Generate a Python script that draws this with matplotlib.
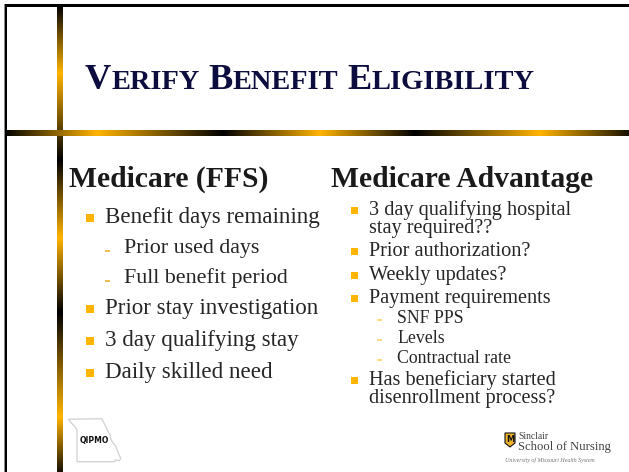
import numpy as np
import matplotlib
matplotlib.use("Agg")
import matplotlib.pyplot as plt
from matplotlib.colors import LinearSegmentedColormap
from matplotlib.patches import Rectangle, Polygon

# ---------------- content ----------------
title_text = "Verify Benefit Eligibility"
heading_left = "Medicare (FFS)"
heading_right = "Medicare Advantage"

left_levels = [0, 1, 1, 0, 0, 0]
left_texts = ["Benefit days remaining", "Prior used days", "Full benefit period",
              "Prior stay investigation", "3 day qualifying stay", "Daily skilled need"]

right_levels = [0, 0, 0, 0, 1, 1, 1, 0]
right_texts = [["3 day qualifying hospital", "stay required??"],
               ["Prior authorization?"],
               ["Weekly updates?"],
               ["Payment requirements"],
               ["SNF PPS"],
               ["Levels"],
               ["Contractual rate"],
               ["Has beneficiary started", "disenrollment process?"]]

logo_left_text = "QIPMO"
logo_right_lines = ["Sinclair", "School of Nursing", "University of Missouri Health System"]

# ---------------- layout (pixel coordinates) ----------------
W, H = 629, 472
left_baselines = [223, 253, 283, 314, 346, 378]
right_baselines = [215, 256, 280, 303, 323, 343, 363, 385]
right_line_gap = 18

GOLD = "#FFB400"
TEXT = "#262626"
NAVY = "#0c0c3e"
SERIF = ["Liberation Serif", "DejaVu Serif"]

fig = plt.figure(figsize=(W / 100, H / 100), dpi=100)
ax = fig.add_axes([0, 0, 1, 1])
ax.set_xlim(0, W)
ax.set_ylim(H, 0)
ax.axis("off")
renderer = fig.canvas.get_renderer()


def text_width(s, size, **kw):
    t = ax.text(0, 0, s, fontsize=size, family=SERIF, **kw)
    w = t.get_window_extent(renderer=renderer).width
    t.remove()
    return w


def fit_size(s, target, **kw):
    return 20.0 * target / text_width(s, 20.0, **kw)


# ---------------- decorative frame ----------------
cmap = LinearSegmentedColormap.from_list("blackgold", ["#000000", GOLD])

ax.add_patch(Rectangle((4, 4), W - 4, 2.6, color="#000000", lw=0, zorder=3))
ax.add_patch(Rectangle((4, 4), 1.2, H - 4, color="#8a8a8a", lw=0, zorder=3))
ax.add_patch(Rectangle((5.2, 4), 2.2, H - 4, color="#000000", lw=0, zorder=3))

# vertical gradient bar
ys = np.linspace(5, H, 600)
v_vals = np.interp(ys, [5, 73, 160, 238, 312, 417, 472], [0, 1, 0, 1, 0, 1, 0.1])
ax.imshow(v_vals[:, None], cmap=cmap, vmin=0, vmax=1, aspect="auto",
          extent=[57, 63, H, 5], interpolation="bilinear", zorder=2)
# horizontal gradient bar
xs = np.linspace(4, W, 800)
h_vals = np.interp(xs, [4, 97, 223, 320, 415, 540, 629], [0, 1, 0, 1, 0, 1, 0.1])
ax.imshow(h_vals[None, :], cmap=cmap, vmin=0, vmax=1, aspect="auto",
          extent=[4, W, 136, 130], interpolation="bilinear", zorder=2.5)
ax.set_xlim(0, W)
ax.set_ylim(H, 0)

# ---------------- title in small caps ----------------
words = title_text.split()
ratio = 0.78
base = 20.0
space_w = text_width("I I", base, weight="bold") - text_width("II", base, weight="bold")
total = 0
for i, wd in enumerate(words):
    total += text_width(wd[0].upper(), base, weight="bold")
    total += text_width(wd[1:].upper(), base * ratio, weight="bold")
    if i < len(words) - 1:
        total += space_w
big = base * (533 - 85) / total
small = big * ratio
scale = big / base
x = 85
for i, wd in enumerate(words):
    ax.text(x, 89, wd[0].upper(), fontsize=big, weight="bold", family=SERIF,
            color=NAVY, va="baseline", ha="left")
    x += text_width(wd[0].upper(), big, weight="bold")
    ax.text(x, 89, wd[1:].upper(), fontsize=small, weight="bold", family=SERIF,
            color=NAVY, va="baseline", ha="left")
    x += text_width(wd[1:].upper(), small, weight="bold")
    x += space_w * scale

# ---------------- headings ----------------
hsize = fit_size(heading_right, 262, weight="bold")
ax.text(69, 187, heading_left, fontsize=hsize, weight="bold", family=SERIF,
        color="#1a1a1a", va="baseline", ha="left")
ax.text(331, 187, heading_right, fontsize=hsize, weight="bold", family=SERIF,
        color="#1a1a1a", va="baseline", ha="left")

# ---------------- left column ----------------
l0 = fit_size("Benefit days remaining", 215)
l1 = fit_size("Full benefit period", 164)
for lev, s, yb in zip(left_levels, left_texts, left_baselines):
    if lev == 0:
        ax.add_patch(Rectangle((86, yb - 9.5), 8, 8, color=GOLD, lw=0))
        ax.text(105, yb, s, fontsize=l0, family=SERIF, color=TEXT, va="baseline")
    else:
        ax.plot([105, 110], [yb - 1.8, yb - 1.8], color="#F2B030", lw=1.2,
                solid_capstyle="butt")
        ax.text(124, yb, s, fontsize=l1, family=SERIF, color=TEXT, va="baseline")

# ---------------- right column ----------------
r0 = fit_size("3 day qualifying hospital", 202)
r1 = fit_size("Contractual rate", 114)
for lev, lines, yb in zip(right_levels, right_texts, right_baselines):
    if lev == 0:
        ax.add_patch(Rectangle((351, yb - 8), 7, 7, color=GOLD, lw=0))
        for k, s in enumerate(lines):
            ax.text(369, yb + k * right_line_gap, s, fontsize=r0, family=SERIF,
                    color=TEXT, va="baseline")
    else:
        ax.plot([377, 382], [yb - 3.4, yb - 3.4], color="#FFD36E", lw=1.2,
                solid_capstyle="butt")
        for k, s in enumerate(lines):
            ax.text(397, yb + k * right_line_gap, s, fontsize=r1, family=SERIF,
                    color=TEXT, va="baseline")

# ---------------- QIPMO logo ----------------
mo = [(68.3, 419.3), (101.7, 418.7), (105, 425), (107.3, 430), (110, 435),
      (110.7, 439.3), (113.3, 443.3), (116, 446.7), (117.3, 450.7), (119.3, 455),
      (120.7, 458.3), (119.3, 460.7), (115, 460), (115, 461.7), (77, 461.7),
      (77, 430), (75, 426.7), (71.7, 423.3)]
ax.add_patch(Polygon(mo, closed=True, fill=False, edgecolor="#d4d4d4", lw=1.0))
ax.text(94, 441, logo_left_text, fontsize=5.5, weight="bold", family="DejaVu Sans",
        color="#111111", ha="center", va="center")

# ---------------- Sinclair logo ----------------
shield = [(505, 433), (515, 433), (515, 443), (510, 447), (505, 443)]
ax.add_patch(Polygon(shield, closed=True, facecolor="#EDB42A", edgecolor="#111111", lw=0.8))
ax.text(510, 439.5, "M", fontsize=6, weight="bold", family="DejaVu Sans",
        color="#111111", ha="center", va="center")
ax.text(518, 439, logo_right_lines[0], fontsize=fit_size(logo_right_lines[0], 30),
        family=SERIF, color="#444444", va="baseline")
ax.text(518, 450, logo_right_lines[1], fontsize=fit_size(logo_right_lines[1], 92),
        family=SERIF, color="#444444", va="baseline")
ax.text(505, 462, logo_right_lines[2], fontsize=fit_size(logo_right_lines[2], 90, style="italic"),
        family=SERIF, style="italic", color="#777777", va="baseline")

fig.savefig("out.png", dpi=100)
